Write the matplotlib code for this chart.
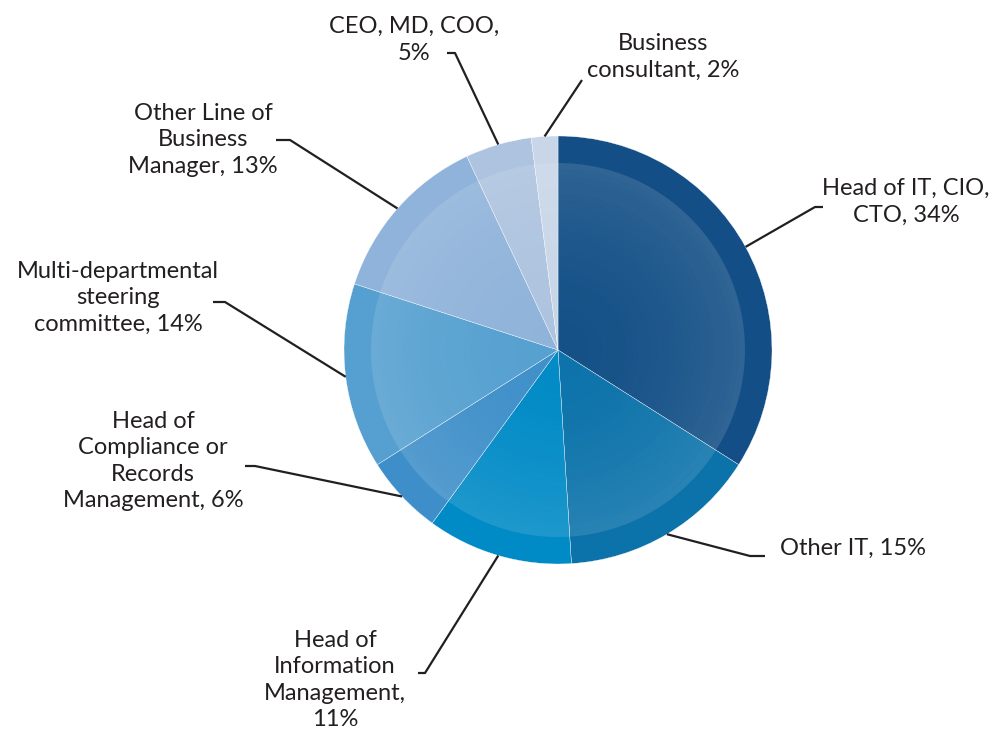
import matplotlib.pyplot as plt
import numpy as np

labels = ["Head of IT, CIO,\nCTO, 34%", "Other IT, 15%",
          "Head of\nInformation\nManagement,\n11%",
          "Head of\nCompliance or\nRecords\nManagement, 6%",
          "Multi-departmental\nsteering\ncommittee, 14%",
          "Other Line of\nBusiness\nManager, 13%",
          "CEO, MD, COO,\n5%", "Business\nconsultant, 2%"]
shares = [34, 15, 11, 6, 14, 13, 5, 2]
colors = ["#134f86", "#0b72aa", "#008ac6", "#3e8fc9",
          "#55a0d0", "#8fb3da", "#adc3df", "#c8d6e8"]

# label layout in pixel space: (text x, text y, elbow x, elbow y, line end x)
label_pos = [
    (906, 202, 815, 207, 823),
    (853, 548, 750, 556, 765),
    (335, 680, 425, 673, 418),
    (153, 461, 255, 466, 245),
    (118, 298, 225, 302, 213),
    (203, 140, 290, 140, 276),
    (414, 40, 455, 53, 447),
    (663, 57, 582, 80, 582),
]

W, H = 992, 730
cx, cy, R = 558, 350, 214


def px(x, y):
    return (x - cx) / R, (cy - y) / R


fig = plt.figure(figsize=(W / 100, H / 100), dpi=100)
ax = fig.add_axes([0, 0, 1, 1])

ax.pie(shares, colors=colors, startangle=90, counterclock=False,
       radius=1.0, center=(0, 0), frame=True,
       wedgeprops=dict(edgecolor="white", linewidth=0.25))

# inner disc with a soft radial sheen, lighter toward its rim
r_in = 187 / R
steps = 30
for i in range(steps):
    r = r_in * (1 - i / steps)
    a = 0.01 + 0.11 * (1 - i / steps) ** 2
    ax.pie([1], radius=r, colors=["white"], startangle=90,
           wedgeprops=dict(width=r_in / steps, alpha=a, linewidth=0))

ax.set_xlim(-cx / R, (W - cx) / R)
ax.set_ylim((cy - H) / R, cy / R)
ax.set_aspect("equal")
ax.axis("off")

font = ["Lato", "DejaVu Sans"]
cum = np.cumsum([0] + shares[:-1])
for lab, s, c0, (tx, ty, ex, ey, lx) in zip(labels, shares, cum, label_pos):
    mid = np.deg2rad(90 - (c0 + s / 2) / sum(shares) * 360)
    x0, y0 = np.cos(mid), np.sin(mid)
    x1, y1 = px(ex, ey)
    x2, y2 = px(lx, ey)
    ax.plot([x0, x1, x2], [y0, y1, y2], color="#231f20", lw=1.6,
            solid_capstyle="butt", zorder=1)
    tx_, ty_ = px(tx, ty)
    ax.text(tx_, ty_, lab, ha="center", va="center", fontsize=17,
            family=font, color="#231f20", linespacing=1.33)

fig.savefig("out.png", dpi=100)
